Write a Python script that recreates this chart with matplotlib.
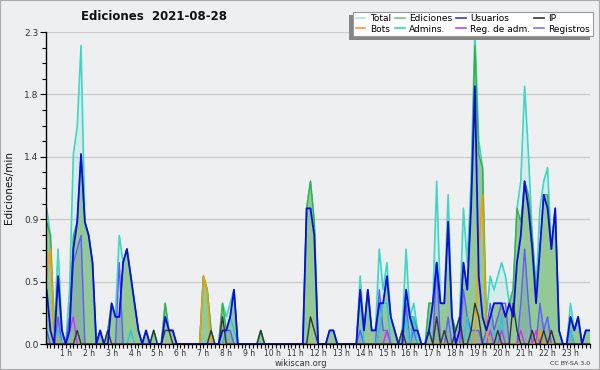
import numpy as np
import matplotlib
matplotlib.use('Agg')
import matplotlib.pyplot as plt
from matplotlib.lines import Line2D
from matplotlib.patches import Rectangle
from matplotlib.ticker import MultipleLocator
from matplotlib.transforms import IdentityTransform

# edits per minute, one value per 10-minute slot (00:10 -> 23:50), one row per hour
total = [1.0, 0.8, 0.1, 0.7, 0.1,
         0, 0.4, 1.4, 1.6, 2.2, 0.9,
         0.8, 0.6, 0, 0.1, 0, 0.1,
         0.3, 0.2, 0.8, 0.6, 0.7, 0.5,
         0.3, 0.1, 0, 0.1, 0, 0.1,
         0, 0, 0.3, 0.1, 0.1, 0,
         0, 0, 0, 0, 0, 0,
         0.5, 0.4, 0.1, 0, 0, 0.3,
         0.2, 0.3, 0.4, 0, 0, 0,
         0, 0, 0, 0.1, 0, 0,
         0, 0, 0, 0, 0, 0,
         0, 0, 0, 1.0, 1.2, 0.9,
         0, 0, 0, 0.1, 0.1, 0,
         0, 0, 0, 0, 0, 0.5,
         0.1, 0.4, 0.1, 0.1, 0.7, 0.4,
         0.6, 0.2, 0.1, 0, 0.1, 0.7,
         0.2, 0.3, 0.1, 0, 0, 0.3,
         0.3, 1.2, 0.3, 0.3, 1.1, 0.2,
         0.1, 0.2, 1.0, 0.6, 1.2, 2.3,
         1.5, 1.3, 0.2, 0.5, 0.4, 0.5,
         0.6, 0.5, 0.3, 0.4, 1.0, 1.2,
         1.9, 1.4, 0.8, 0.4, 1.0, 1.2,
         1.3, 0.7, 1.0, 0.1, 0, 0,
         0.3, 0.1, 0.2, 0, 0.1, 0.1]

ediciones = [0.9, 0.8, 0.1, 0.5, 0.1,
             0, 0.2, 0.8, 0.9, 1.4, 0.9,
             0.8, 0.6, 0, 0.1, 0, 0.1,
             0.3, 0.2, 0.2, 0.6, 0.7, 0.5,
             0.3, 0.1, 0, 0.1, 0, 0.1,
             0, 0, 0.3, 0.1, 0.1, 0,
             0, 0, 0, 0, 0, 0,
             0.5, 0.4, 0.1, 0, 0, 0.3,
             0.1, 0.2, 0.4, 0, 0, 0,
             0, 0, 0, 0.1, 0, 0,
             0, 0, 0, 0, 0, 0,
             0, 0, 0, 1.0, 1.2, 0.9,
             0, 0, 0, 0.1, 0.1, 0,
             0, 0, 0, 0, 0, 0.4,
             0.1, 0.4, 0.1, 0.1, 0.3, 0.3,
             0.5, 0.2, 0.1, 0, 0.1, 0.4,
             0.2, 0.2, 0.1, 0, 0, 0.3,
             0.3, 0.6, 0.3, 0.3, 0.9, 0.2,
             0.1, 0.2, 0.6, 0.4, 1.1, 2.2,
             1.4, 1.3, 0.1, 0.2, 0.3, 0.3,
             0.3, 0.2, 0.3, 0.4, 1.0, 0.9,
             1.2, 1.1, 0.8, 0.4, 0.7, 1.1,
             1.1, 0.7, 1.0, 0.1, 0, 0,
             0.2, 0.1, 0.2, 0, 0.1, 0.1]

usuarios = [0.4, 0.1, 0, 0.5, 0.1,
            0, 0.1, 0.7, 0.9, 1.4, 0.9,
            0.8, 0.6, 0, 0.1, 0, 0,
            0.3, 0.2, 0.2, 0.6, 0.7, 0.5,
            0.3, 0.1, 0, 0.1, 0, 0,
            0, 0, 0.2, 0.1, 0.1, 0,
            0, 0, 0, 0, 0, 0,
            0, 0, 0, 0, 0, 0.1,
            0.1, 0.2, 0.4, 0, 0, 0,
            0, 0, 0, 0, 0, 0,
            0, 0, 0, 0, 0, 0,
            0, 0, 0, 1.0, 1.0, 0.8,
            0, 0, 0, 0.1, 0.1, 0,
            0, 0, 0, 0, 0, 0.4,
            0.1, 0.4, 0.1, 0.1, 0.3, 0.3,
            0.5, 0.2, 0.1, 0, 0, 0.4,
            0.2, 0.1, 0.1, 0, 0, 0.1,
            0.3, 0.6, 0.3, 0.3, 0.9, 0.2,
            0, 0.1, 0.6, 0.4, 1.0, 1.9,
            0.5, 0.2, 0.1, 0.2, 0.3, 0.3,
            0.3, 0.2, 0.3, 0.2, 0.6, 0.8,
            1.2, 1.0, 0.7, 0.3, 0.7, 1.1,
            1.0, 0.7, 1.0, 0.1, 0, 0,
            0.2, 0.1, 0.2, 0, 0.1, 0.1]

ip = [0, 0, 0, 0, 0,
      0, 0, 0, 0.1, 0, 0,
      0, 0, 0, 0, 0, 0.1,
      0, 0, 0, 0, 0, 0,
      0, 0, 0, 0, 0, 0.1,
      0, 0, 0.1, 0.1, 0, 0,
      0, 0, 0, 0, 0, 0,
      0, 0, 0.1, 0, 0, 0.2,
      0, 0, 0, 0, 0, 0,
      0, 0, 0, 0.1, 0, 0,
      0, 0, 0, 0, 0, 0,
      0, 0, 0, 0, 0.2, 0.1,
      0, 0, 0, 0, 0, 0,
      0, 0, 0, 0, 0, 0,
      0, 0, 0, 0, 0, 0,
      0, 0, 0, 0, 0.1, 0,
      0, 0, 0, 0, 0, 0.1,
      0, 0.2, 0, 0.1, 0, 0,
      0.1, 0.2, 0, 0, 0.1, 0.3,
      0.2, 0, 0, 0, 0, 0.1,
      0, 0, 0, 0.3, 0.1, 0,
      0, 0, 0.1, 0, 0, 0.1,
      0, 0.1, 0, 0, 0, 0,
      0, 0, 0, 0, 0, 0]

bots = [0.5, 0.7, 0.1, 0, 0,
        0, 0, 0, 0, 0, 0,
        0, 0, 0, 0, 0, 0,
        0, 0, 0, 0, 0, 0,
        0, 0, 0, 0, 0, 0,
        0, 0, 0, 0, 0, 0,
        0, 0, 0, 0, 0, 0,
        0.5, 0.4, 0, 0, 0, 0,
        0, 0, 0, 0, 0, 0,
        0, 0, 0, 0, 0, 0,
        0, 0, 0, 0, 0, 0,
        0, 0, 0, 0, 0, 0,
        0, 0, 0, 0, 0, 0,
        0, 0, 0, 0, 0, 0,
        0, 0, 0, 0, 0, 0,
        0, 0, 0, 0, 0, 0,
        0, 0, 0, 0, 0, 0,
        0, 0, 0, 0, 0, 0,
        0, 0, 0, 0, 0, 0,
        0.7, 1.1, 0.1, 0, 0, 0,
        0, 0, 0, 0, 0, 0,
        0, 0, 0, 0, 0.1, 0,
        0, 0, 0, 0, 0, 0,
        0, 0, 0, 0, 0, 0]

admins = [0, 0, 0, 0.1, 0,
          0, 0, 0, 0, 0, 0,
          0, 0, 0, 0, 0, 0,
          0, 0, 0, 0, 0, 0.1,
          0, 0, 0, 0, 0, 0,
          0, 0, 0, 0, 0, 0,
          0, 0, 0, 0, 0, 0,
          0, 0, 0, 0, 0, 0,
          0.1, 0.2, 0.1, 0, 0, 0,
          0, 0, 0, 0, 0, 0,
          0, 0, 0, 0, 0, 0,
          0, 0, 0, 0, 0, 0,
          0, 0, 0, 0, 0, 0,
          0, 0, 0, 0, 0, 0.4,
          0, 0, 0, 0, 0.1, 0.3,
          0.3, 0, 0, 0, 0, 0.2,
          0, 0.2, 0, 0, 0, 0.1,
          0, 0, 0, 0, 0, 0,
          0, 0, 0, 0.2, 0, 0,
          0, 0, 0, 0, 0.1, 0,
          0.2, 0, 0, 0, 0, 0,
          0, 0, 0, 0, 0, 0,
          0, 0, 0, 0, 0, 0,
          0.1, 0, 0, 0, 0, 0]

reg_adm = [0, 0, 0, 0, 0,
           0, 0.1, 0.2, 0, 0, 0,
           0, 0, 0, 0, 0, 0,
           0, 0, 0, 0, 0, 0,
           0, 0, 0, 0, 0, 0,
           0, 0, 0, 0, 0, 0,
           0, 0, 0, 0, 0, 0,
           0, 0, 0, 0, 0, 0,
           0, 0, 0, 0, 0, 0,
           0, 0, 0, 0, 0, 0,
           0, 0, 0, 0, 0, 0,
           0, 0, 0, 0, 0, 0,
           0, 0, 0, 0, 0, 0,
           0, 0, 0, 0, 0, 0,
           0, 0, 0, 0, 0, 0,
           0.1, 0, 0, 0, 0, 0,
           0, 0, 0, 0, 0, 0,
           0, 0, 0, 0, 0, 0,
           0, 0.1, 0, 0, 0, 0,
           0, 0, 0, 0.1, 0, 0,
           0.1, 0, 0, 0, 0, 0.1,
           0, 0, 0, 0.1, 0, 0,
           0, 0.1, 0, 0, 0, 0,
           0, 0, 0, 0, 0, 0]

registros = [0.1, 0, 0, 0.2, 0,
             0, 0.2, 0.6, 0.7, 0.8, 0,
             0, 0, 0, 0, 0, 0,
             0, 0, 0.6, 0, 0, 0,
             0, 0, 0, 0, 0, 0,
             0, 0, 0, 0, 0, 0,
             0, 0, 0, 0, 0, 0,
             0, 0, 0, 0, 0, 0,
             0.1, 0.1, 0, 0, 0, 0,
             0, 0, 0, 0, 0, 0,
             0, 0, 0, 0, 0, 0,
             0, 0, 0, 0, 0, 0,
             0, 0, 0, 0, 0, 0,
             0, 0, 0, 0, 0, 0.1,
             0, 0, 0, 0, 0.4, 0.1,
             0.1, 0, 0, 0, 0, 0.3,
             0, 0.1, 0, 0, 0, 0,
             0, 0.6, 0, 0, 0.2, 0,
             0, 0, 0.4, 0.2, 0.1, 0.1,
             0.1, 0, 0.1, 0.3, 0.1, 0.2,
             0.3, 0.3, 0, 0, 0, 0.3,
             0.7, 0.3, 0, 0, 0.3, 0.1,
             0.2, 0, 0, 0, 0, 0,
             0.1, 0, 0, 0, 0, 0]

legend_labels = ['Total', 'Bots', 'Ediciones', 'Admins.',
                 'Usuarios', 'Reg. de adm.', 'IP', 'Registros']
legend_colors = ['#a6e6df', '#ff9a2e', '#7cc47c', '#3ccde0',
                 '#3a3ad6', '#d23fe0', '#333333', '#7a7af0']

hours = np.arange(1, len(total) + 1) / 6.0

bg = '#eeeff1'
fig = plt.figure(figsize=(6, 3.7), dpi=100, facecolor=bg)
ax = fig.add_axes([46 / 600, 26 / 370, 544 / 600, 312 / 370])
ax.set_facecolor(bg)

# areas
ax.fill_between(hours, total, color='#40e0d0', alpha=0.15, lw=0)
ax.fill_between(hours, ediciones, color='#93c995', lw=0)
ax.fill_between(hours, registros, color='#3030ff', alpha=0.12, lw=0)

# lines
ax.plot(hours, total, color='#3fd6c6', lw=1.2)
ax.plot(hours, ediciones, color='#3aae44', lw=1.0)
ax.plot(hours, registros, color='#5c5cff', lw=1.0)
ax.plot(hours, admins, color='#22c8e6', lw=1.0)
ax.plot(hours, reg_adm, color='#cc33ee', lw=1.0)
ax.plot(hours, bots, color='#ff9900', lw=1.0)
ax.plot(hours, ip, color='#333333', lw=1.0)
ax.plot(hours, usuarios, color='#0c0ce0', lw=1.3)

# axes
ax.set_xlim(0.14, 23.85)
ax.set_ylim(0, 2.3)
yt = np.linspace(0, 2.3, 6)
ax.set_yticks(yt)
ax.set_yticklabels(['%.1f' % v for v in yt])
ax.yaxis.set_minor_locator(MultipleLocator(2.3 / 20))
ax.set_xticks(range(1, 24))
ax.set_xticklabels(['%d h' % h for h in range(1, 24)])
ax.xaxis.set_minor_locator(MultipleLocator(1 / 6))
ax.tick_params(axis='both', which='both', direction='out', color='black', width=0.8)
ax.tick_params(axis='y', which='major', length=4)
ax.tick_params(axis='y', which='minor', length=3)
ax.tick_params(axis='x', which='both', length=3)
ax.tick_params(axis='x', labelsize=5.5, pad=0.5, labelcolor='#333333')
ax.tick_params(axis='y', labelsize=6.5, pad=1.5, labelcolor='#333333')
ax.yaxis.grid(True, color='#cccccc', lw=1)
ax.set_axisbelow(True)
for s in ['top', 'right']:
    ax.spines[s].set_visible(False)
for s in ['left', 'bottom']:
    ax.spines[s].set_color('black')
    ax.spines[s].set_linewidth(1)

# texts
fig.text(154 / 600, 1 - 17 / 370, 'Ediciones  2021-08-28', ha='center', va='center',
         fontsize=8.5, fontweight='bold', color='#111111')
fig.text(9 / 600, 1 - 188 / 370, 'Ediciones/min', rotation=90, ha='center', va='center',
         fontsize=7.5, color='#111111')
fig.text(301 / 600, 1 - 363.5 / 370, 'wikiscan.org', ha='center', va='center',
         fontsize=6, color='#333333')
fig.text(590 / 600, 1 - 363.5 / 370, 'CC BY-SA 3.0', ha='right', va='center',
         fontsize=4.5, color='#333333')

# legend with shadow to the lower left
handles = [Line2D([], [], color=c, lw=1.2) for c in legend_colors]
leg = ax.legend(handles, legend_labels, ncol=4, loc='upper right',
                bbox_to_anchor=(593 / 600, 1 - 11.5 / 370), bbox_transform=fig.transFigure,
                fontsize=6.5, fancybox=False, framealpha=1, edgecolor='#999999',
                handlelength=1.1, handletextpad=0.5, columnspacing=0.4,
                labelspacing=0.15, borderpad=0.3, borderaxespad=0)
leg.get_frame().set_linewidth(0.8)
leg.set_zorder(5)

fig.canvas.draw()
bb = leg.get_frame().get_window_extent()
shadow = Rectangle((bb.x0 - 3.5, bb.y0 - 3.5), bb.width, bb.height,
                   facecolor='#858585', edgecolor='none', zorder=4.9, clip_on=False)
shadow.set_transform(IdentityTransform())
ax.add_artist(shadow)

# outer border
fig.patches.append(Rectangle((0, 0), 1, 1, transform=fig.transFigure, fill=False,
                             edgecolor='#aaaaaa', lw=1.5))

plt.savefig('out.png', dpi=100, facecolor=bg)
